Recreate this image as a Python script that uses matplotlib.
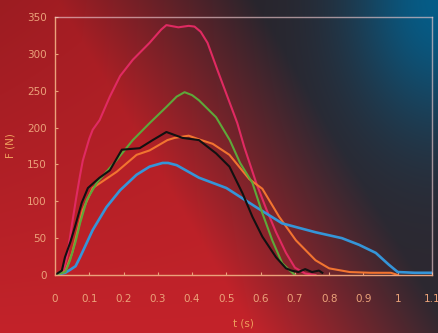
import numpy as np
import matplotlib
matplotlib.use("Agg")
import matplotlib.pyplot as plt

# ---- data ----
t_magenta = [0, 0.023, 0.035, 0.05, 0.062, 0.073, 0.081, 0.10, 0.11, 0.13, 0.16, 0.19, 0.227, 0.276, 0.31, 0.325,
             0.36, 0.39, 0.407, 0.425, 0.445, 0.474, 0.503, 0.532, 0.552, 0.587, 0.616, 0.645, 0.674,
             0.70, 0.73, 0.76]
F_magenta = [0, 3, 25, 70, 105, 135, 155, 185, 197, 210, 242, 270, 292, 315, 333, 339,
             336, 338, 337, 330, 315, 278, 242, 206, 174, 125, 90, 58, 30,
             10, 2, 0]

t_green = [0, 0.03, 0.044, 0.06, 0.073, 0.093, 0.122, 0.15, 0.18, 0.227, 0.276, 0.325, 0.355, 0.378,
           0.40, 0.42, 0.47, 0.51, 0.54, 0.576, 0.605, 0.634, 0.663, 0.683, 0.70]
F_green = [0, 4, 20, 45, 70, 102, 125, 140, 156, 183, 206, 228, 242, 248,
           244, 237, 214, 183, 152, 125, 84, 47, 16, 7, 0]

t_black = [0, 0.02, 0.029, 0.045, 0.058, 0.078, 0.096, 0.13, 0.16, 0.195, 0.247, 0.285, 0.325, 0.372,
           0.42, 0.47, 0.509, 0.547, 0.576, 0.605, 0.645, 0.674, 0.69, 0.71, 0.73, 0.75, 0.77, 0.78]
F_black = [0, 6, 24, 45, 65, 98, 118, 132, 142, 170, 172, 183, 194, 186,
           183, 165, 147, 111, 79, 52, 24, 9, 6, 4, 8, 4, 6, 3]

t_orange = [0, 0.03, 0.05, 0.081, 0.11, 0.18, 0.238, 0.276, 0.328, 0.349, 0.39, 0.42, 0.46, 0.509,
            0.567, 0.605, 0.654, 0.703, 0.76, 0.80, 0.86, 0.92, 0.98, 1.0]
F_orange = [0, 5, 30, 88, 118, 140, 163, 169, 183, 186, 189, 184, 178, 163,
            130, 117, 79, 47, 20, 9, 4, 3, 3, 0]

t_blue = [0, 0.03, 0.044, 0.06, 0.073, 0.11, 0.15, 0.19, 0.238, 0.276, 0.314, 0.33, 0.355, 0.42,
          0.5, 0.587, 0.663, 0.76, 0.837, 0.887, 0.936, 0.974, 1.0, 1.05, 1.1]
F_blue = [0, 3, 7, 12, 24, 61, 92, 115, 136, 147, 152, 152, 149, 132,
          118, 92, 70, 58, 50, 41, 30, 14, 4, 3, 3]

x_ticks = [0, 0.1, 0.2, 0.3, 0.4, 0.5, 0.6, 0.7, 0.8, 0.9, 1.0, 1.1]
x_labels = ["0", "0.1", "0.2", "0.3", "0.4", "0.5", "0.6", "0.7", "0.8", "0.9", "1", "1.1"]
y_ticks = [0, 50, 100, 150, 200, 250, 300, 350]
y_labels = ["0", "50", "100", "150", "200", "250", "300", "350"]

# ---- styling ----
W, H = 439, 333
fig = plt.figure(figsize=(W / 100, H / 100), dpi=100)

# background gradient
bg = fig.add_axes([0, 0, 1, 1])
u = np.linspace(0, 1, 440)[None, :]
v = np.linspace(1, 0, 334)[:, None]
red = np.array([195, 35, 42]) / 255
dark = np.array([45, 40, 48]) / 255
blue = np.array([5, 92, 135]) / 255
d = np.clip((u - 0.58 + 0.45 * v) / 0.45, 0, 1)[..., None]
img = red * (1 - d) + dark * d
# slight darkening toward top-left
img = img * (1 - 0.2 * v[..., None] * (1 - u[..., None]))
g = np.exp(-(((u - 1.0) ** 2) / 0.04 + ((v - 1.0) ** 2) / 0.15))[..., None]
img = img * (1 - g) + blue * g
bg.imshow(np.clip(img, 0, 1), aspect="auto", extent=[0, 1, 0, 1])
bg.set_axis_off()

ax = fig.add_axes([55 / W, 1 - 275 / H, (432 - 55) / W, (275 - 17) / H])
ax.patch.set_alpha(0)

lw = 1.5
ax.plot(t_magenta, F_magenta, color="#E02A62", lw=lw)
ax.plot(t_orange, F_orange, color="#F27430", lw=lw)
ax.plot(t_blue, F_blue, color="#3595D8", lw=lw + 0.4)
ax.plot(t_green, F_green, color="#5EA83A", lw=lw)
ax.plot(t_black, F_black, color="#111111", lw=lw)

ax.set_xlim(0, 1.1)
ax.set_ylim(0, 350)
ax.set_xticks(x_ticks)
ax.set_xticklabels(x_labels)
ax.set_yticks(y_ticks)
ax.set_yticklabels(y_labels)

txt = "#EE9E5C"
fam = ["Liberation Sans Narrow", "DejaVu Sans"]
for lab in ax.get_xticklabels() + ax.get_yticklabels():
    lab.set_color(txt)
    lab.set_fontsize(7.5)
    lab.set_family(fam)
ax.tick_params(direction="in", length=2.5, width=0.8, colors="#EBA27A", pad=6)
ax.tick_params(axis="x", pad=14)

for s in ("left", "bottom"):
    ax.spines[s].set_color("#EBA27A")
    ax.spines[s].set_linewidth(1.0)
for s in ("top", "right"):
    ax.spines[s].set_color((0.92, 0.78, 0.80, 0.65))
    ax.spines[s].set_linewidth(1.0)

ax.set_xlabel("t (s)", color=txt, fontsize=7.5, family=fam, labelpad=10)
ax.set_ylabel("F (N)", color=txt, fontsize=7.5, family=fam, labelpad=8)

fig.savefig("out.png", dpi=100)
